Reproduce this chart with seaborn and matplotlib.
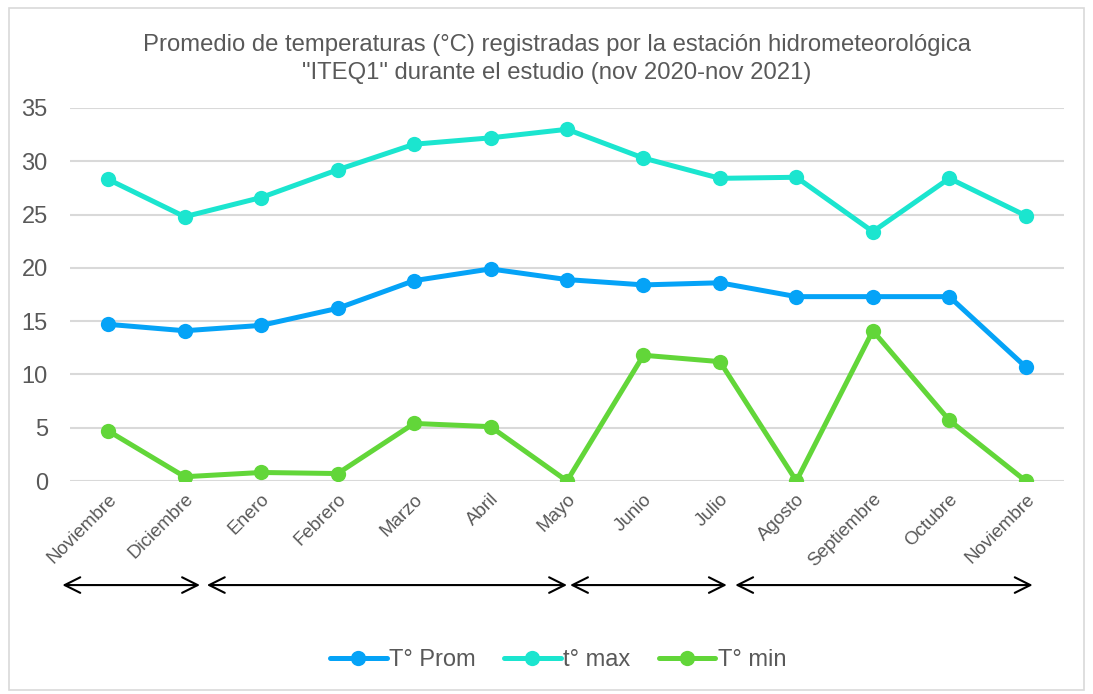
import numpy as np
import pandas as pd
import matplotlib
matplotlib.use("Agg")
import matplotlib.pyplot as plt
import seaborn as sns
from matplotlib.patches import Rectangle

meses = ["Noviembre", "Diciembre", "Enero", "Febrero", "Marzo", "Abril", "Mayo",
         "Junio", "Julio", "Agosto", "Septiembre", "Octubre", "Noviembre"]
t_prom = [14.7, 14.1, 14.6, 16.2, 18.8, 19.9, 18.9, 18.4, 18.6, 17.3, 17.3, 17.3, 10.7]
t_max = [28.3, 24.8, 26.6, 29.2, 31.6, 32.2, 33.0, 30.3, 28.4, 28.5, 23.4, 28.4, 24.9]
t_min = [4.7, 0.4, 0.8, 0.7, 5.4, 5.1, 0.0, 11.8, 11.2, 0.0, 14.1, 5.7, 0.0]
series = ["T° Prom", "t° max", "T° min"]
colores = ["#05A3F7", "#1BE5CF", "#62D639"]
# periodos marcados con flechas bajo el eje (en posiciones de categoria)
periodos = [(-0.6, 1.2), (1.29, 6.0), (6.04, 8.09), (8.2, 12.09)]

sns.set_theme(style="white")
plt.rcParams["font.family"] = ["Liberation Sans", "DejaVu Sans"]

pos = np.arange(len(meses))
df = pd.DataFrame({
    "pos": np.tile(pos, 3),
    "valor": t_prom + t_max + t_min,
    "serie": np.repeat(series, len(meses)),
})

fig = plt.figure(figsize=(10.93, 6.94), dpi=100)
fig.patches.append(Rectangle((0.008, 0.006), 0.984, 0.982, transform=fig.transFigure,
                             fill=False, edgecolor="#D9D9D9", linewidth=1.2))
ax = fig.add_axes([70 / 1093, 1 - 481 / 694, 994 / 1093, 373 / 694])

sns.lineplot(data=df, x="pos", y="valor", hue="serie", hue_order=series,
             palette=colores, marker="o", markersize=11, markeredgewidth=0,
             linewidth=3.6, ax=ax, legend=False)

ax.set_xlim(-0.5, len(meses) - 0.5)
ax.set_ylim(0, 35)
ax.set_yticks(range(0, 36, 5))
ax.yaxis.grid(True, color="#D9D9D9", linewidth=1.5)
ax.set_axisbelow(True)
for s in ax.spines.values():
    s.set_visible(False)
ax.tick_params(axis="both", length=0, colors="#595959")
ax.tick_params(axis="y", labelsize=17, pad=16)
ax.set_xticks(pos)
ax.set_xticklabels(meses, rotation=45, ha="right", va="top", rotation_mode="anchor",
                   fontsize=13.5, color="#595959")
ax.tick_params(axis="x", pad=7)
ax.set_xlabel("")
ax.set_ylabel("")

for x0, x1 in periodos:
    ax.annotate("", xy=(x0, -0.279), xytext=(x1, -0.279),
                xycoords=ax.get_xaxis_transform(), textcoords=ax.get_xaxis_transform(),
                arrowprops=dict(arrowstyle="<->", color="black", lw=1.5,
                                mutation_scale=28, shrinkA=0, shrinkB=0),
                annotation_clip=False)

fig.text(557 / 1093, 1 - 45 / 694, "Promedio de temperaturas (°C) registradas por la estación hidrometeorológica",
         ha="center", va="center", fontsize=17.2, color="#595959")
fig.text(557 / 1093, 1 - 73 / 694, "\"ITEQ1\" durante el estudio (nov 2020-nov 2021)",
         ha="center", va="center", fontsize=17.2, color="#595959")

handles = [plt.Line2D([], [], color=c, marker="o", markersize=11, markeredgewidth=0,
                      linewidth=3.6) for c in colores]
fig.legend(handles, series, loc="center", bbox_to_anchor=(558 / 1093, 1 - 660 / 694),
           ncol=3, frameon=False, fontsize=17, labelcolor="#595959",
           handlelength=2.4, handletextpad=0.1, columnspacing=1.2)

fig.savefig("out.png", dpi=100)
